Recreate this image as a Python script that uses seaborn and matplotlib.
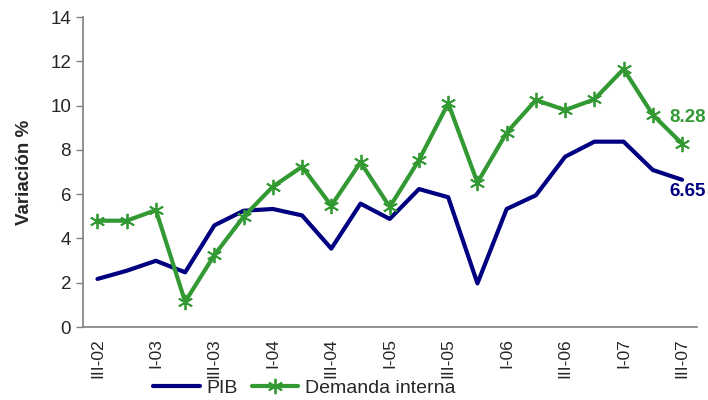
import matplotlib
matplotlib.use("Agg")
import matplotlib.pyplot as plt
import seaborn as sns
import pandas as pd
import numpy as np

quarters = ["III-02", "IV-02", "I-03", "II-03", "III-03", "IV-03", "I-04", "II-04",
            "III-04", "IV-04", "I-05", "II-05", "III-05", "IV-05", "I-06", "II-06",
            "III-06", "IV-06", "I-07", "II-07", "III-07"]
pib = [2.17, 2.54, 2.99, 2.47, 4.59, 5.25, 5.33, 5.04, 3.54, 5.57, 4.88,
       6.23, 5.86, 1.97, 5.33, 5.95, 7.69, 8.37, 8.37, 7.09, 6.65]
demanda = [4.80, 4.80, 5.28, 1.14, 3.25, 4.98, 6.34, 7.24, 5.48, 7.44, 5.42,
           7.54, 10.10, 6.52, 8.78, 10.25, 9.80, 10.28, 11.65, 9.58, 8.28]

sns.set_style("white")
plt.rcParams["font.family"] = ["Liberation Sans", "DejaVu Sans"]

df = pd.DataFrame({"pos": np.arange(len(quarters)), "PIB": pib, "Demanda interna": demanda})

fig = plt.figure(figsize=(7.08, 4.0), dpi=100)
ax = fig.add_axes([0.117, 0.1825, 0.867, 0.775])

navy = "#000080"
green = "#339933"
sns.lineplot(data=df, x="pos", y="PIB", ax=ax, color=navy, linewidth=3, label="PIB")
sns.lineplot(data=df, x="pos", y="Demanda interna", ax=ax, color=green, linewidth=3,
             marker=(6, 2, 0), markersize=11, markeredgewidth=1.3, markeredgecolor=green,
             label="Demanda interna")

# end-of-series value labels, x in figure coords, y in data coords
tr = matplotlib.transforms.blended_transform_factory(fig.transFigure, ax.transData)
ax.text(0.997, 9.48, f"{demanda[-1]:.2f}", color=green, transform=tr,
        fontsize=13.5, fontweight="bold", ha="right", va="center")
ax.text(0.997, 6.1, f"{pib[-1]:.2f}", color=navy, transform=tr,
        fontsize=13.5, fontweight="bold", ha="right", va="center")

ax.set_xlim(-0.5, len(quarters) - 0.5)
ax.set_ylim(0, 14)
ax.set_yticks(range(0, 15, 2))
ax.set_xticks(range(0, len(quarters), 2))
ax.set_xticklabels(quarters[::2], rotation=90)
ax.set_xticks(np.arange(-0.5, len(quarters), 1), minor=True)
ax.tick_params(axis="x", which="major", length=0, labelsize=12.5, pad=8)
ax.tick_params(axis="x", which="minor", length=5, color="#808080", width=1)
ax.tick_params(axis="y", length=5, color="#808080", width=1, labelsize=13.5, left=True)
ax.set_xlabel("")
ax.set_ylabel("Variación %", fontsize=13.5, fontweight="bold", labelpad=12)

for s in ["top", "right"]:
    ax.spines[s].set_visible(False)
for s in ["left", "bottom"]:
    ax.spines[s].set_color("#808080")
    ax.spines[s].set_linewidth(1.2)

ax.legend(loc="center", bbox_to_anchor=(0.43, 0.03), bbox_transform=fig.transFigure,
          ncol=2, frameon=False, fontsize=14, handlelength=2.4, columnspacing=0.7,
          handletextpad=0.35)

fig.savefig("out.png", dpi=100)
